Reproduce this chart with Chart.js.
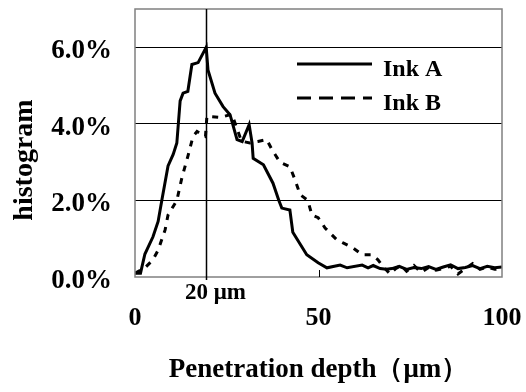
<!DOCTYPE html>
<html lang="en">
<head>
<meta charset="UTF-8">
<title>Penetration depth histogram</title>
<script src="https://cdn.jsdelivr.net/npm/chart.js"></script>
<style>
  body { margin: 0; background: #fff; }
  canvas { display: block; }
</style>
</head>
<body>
<canvas id="chart" width="526" height="392"></canvas>
<script>
// values (depth in um, histogram in %)
const inkADepth = [0, 1.5, 2.7, 4.9, 6.3, 7.3, 9, 10.4, 11.4, 12.3, 13.1, 14.4, 15.5, 17.2, 19.4,
  19.9, 21.8, 24, 25.9, 27.8, 29.2, 31.1, 31.9, 32.2, 35, 37.6, 39.2, 40, 42.2, 43, 46.8, 49.9,
  52.3, 55.9, 57.8, 61.9, 63.5, 64.9, 66.8, 68.5, 70, 72, 74, 76, 78, 80, 82, 84, 86, 88, 90,
  92, 94, 96, 98, 100];
const inkAValue = [0.1, 0.1, 0.6, 1.05, 1.45, 2.0, 2.9, 3.2, 3.5, 4.6, 4.8, 4.85, 5.55, 5.6, 6.0,
  5.4, 4.8, 4.45, 4.24, 3.59, 3.54, 3.98, 3.5, 3.1, 2.93, 2.45, 2.0, 1.8, 1.75, 1.17, 0.58, 0.37,
  0.24, 0.31, 0.24, 0.31, 0.24, 0.3, 0.22, 0.2, 0.22, 0.28, 0.2, 0.25, 0.22, 0.27, 0.2, 0.26, 0.32, 0.22, 0.25,
  0.3, 0.22, 0.28, 0.24, 0.26];

const inkBDepth = [0, 2.7, 4.9, 6.3, 8.2, 9, 11.4, 12.8, 14.4, 15.8, 16.9, 19.2, 19.6, 23.2, 26.4,
  29, 31.3, 33.5, 35.9, 37.3, 39.5, 42.2, 43.6, 45, 47.1, 48.2, 49.9, 51.8, 55, 56.7, 59.4, 61.9,
  64.6, 66.2, 67.3, 69.5, 71, 72.5, 74, 76, 78, 80, 82, 84, 86, 88, 90, 92, 94, 96, 98, 100];
const inkBValue = [0.1, 0.24, 0.45, 0.7, 1.23, 1.62, 2.0, 2.6, 3.15, 3.67, 3.8, 3.67, 4.2, 4.17, 4.25,
  3.55, 3.5, 3.54, 3.59, 3.33, 3.0, 2.88, 2.54, 2.15, 2.0, 1.62, 1.55, 1.28, 0.97, 0.89, 0.76, 0.58,
  0.58, 0.45, 0.31, 0.08, 0.22, 0.3, 0.15, 0.3, 0.12, 0.25, 0.18, 0.22, 0.28, 0.08, 0.22, 0.35, 0.2, 0.26, 0.2, 0.22];

const seriesNames = ["Ink A", "Ink B"];
const markerDepth = 19.4;
const markerLabel = "20 μm";

const serif = "'Liberation Serif', 'Times New Roman', serif";

function toPoints(xs, ys) {
  return xs.map((x, i) => ({ x: x, y: ys[i] }));
}

// keep the plot box where the picture has it
function fixBox(size) {
  return s => {
    if (s.isHorizontal()) s.height = size; else s.width = size;
    s.paddingTop = s.paddingBottom = s.paddingLeft = s.paddingRight = 0;
  };
}

// frame, 20 um marker, inner tick, legend and y title
const overlay = {
  id: 'overlay',
  afterDraw(chart) {
    const ctx = chart.ctx;
    const a = chart.chartArea;
    const xs = chart.scales.x;
    ctx.save();

    ctx.strokeStyle = '#808080';
    ctx.lineWidth = 1.5;
    ctx.strokeRect(a.left, a.top, a.right - a.left, a.bottom - a.top);

    const mx = Math.round(xs.getPixelForValue(markerDepth)) + 0.5;
    ctx.strokeStyle = '#000';
    ctx.lineWidth = 1.5;
    ctx.beginPath();
    ctx.moveTo(mx, a.top);
    ctx.lineTo(mx, a.bottom + 3);
    ctx.stroke();

    const tx = Math.round(xs.getPixelForValue(50)) + 0.5;
    ctx.lineWidth = 1;
    ctx.beginPath();
    ctx.moveTo(tx, a.bottom);
    ctx.lineTo(tx, a.bottom - 7);
    ctx.stroke();

    ctx.fillStyle = '#000';
    ctx.font = 'bold 23px ' + serif;
    ctx.textAlign = 'center';
    ctx.textBaseline = 'middle';
    ctx.fillText(markerLabel, mx + 9, 293);

    // legend
    const rows = [64, 98];
    chart.data.datasets.forEach((ds, i) => {
      ctx.strokeStyle = ds.borderColor;
      ctx.lineWidth = 3;
      ctx.setLineDash(ds.borderDash ? [14, 8] : []);
      ctx.beginPath();
      ctx.moveTo(297, rows[i]);
      ctx.lineTo(372, rows[i]);
      ctx.stroke();
      ctx.setLineDash([]);
      ctx.font = 'bold 24px ' + serif;
      ctx.textAlign = 'left';
      ctx.fillText(ds.label, 383, rows[i] + 6);
    });

    ctx.translate(25, 160);
    ctx.rotate(-Math.PI / 2);
    ctx.font = 'bold 28px ' + serif;
    ctx.textAlign = 'center';
    ctx.fillText('histogram', 0, 0);
    ctx.restore();
  }
};

new Chart(document.getElementById('chart').getContext('2d'), {
  type: 'line',
  data: {
    datasets: [{
      label: seriesNames[0],
      data: toPoints(inkADepth, inkAValue),
      borderColor: '#000',
      borderWidth: 3,
      pointRadius: 0,
      tension: 0,
      fill: false
    }, {
      label: seriesNames[1],
      data: toPoints(inkBDepth, inkBValue),
      borderColor: '#000',
      borderWidth: 3,
      borderDash: [6, 7],
      pointRadius: 0,
      tension: 0,
      fill: false
    }]
  },
  options: {
    responsive: false,
    animation: false,
    layout: { padding: { top: 9, right: 24, left: 0, bottom: 0 } },
    plugins: { legend: { display: false }, tooltip: { enabled: false } },
    scales: {
      x: {
        type: 'linear',
        min: 0,
        max: 100,
        afterFit: fixBox(115),
        ticks: {
          stepSize: 50,
          color: '#000',
          padding: 26,
          maxRotation: 0,
          font: { family: serif, size: 26, weight: 'bold' }
        },
        grid: { display: false, drawTicks: false },
        border: { display: false },
        title: {
          display: true,
          text: 'Penetration depth（μm）',
          color: '#000',
          padding: { top: 0, bottom: 6 },
          font: { family: serif, size: 27, weight: 'bold' }
        }
      },
      y: {
        min: 0,
        max: 7,
        afterFit: fixBox(135),
        ticks: {
          stepSize: 2,
          includeBounds: false,
          color: '#000',
          padding: 23,
          labelOffset: 4,
          font: { family: serif, size: 27, weight: 'bold' },
          callback: v => v.toFixed(1) + '%'
        },
        grid: {
          drawTicks: false,
          color: ctx => ctx.tick.value === 0 ? 'rgba(0,0,0,0)' : '#000',
          lineWidth: 1
        },
        border: { display: false }
      }
    }
  },
  plugins: [overlay]
});
</script>
</body>
</html>
